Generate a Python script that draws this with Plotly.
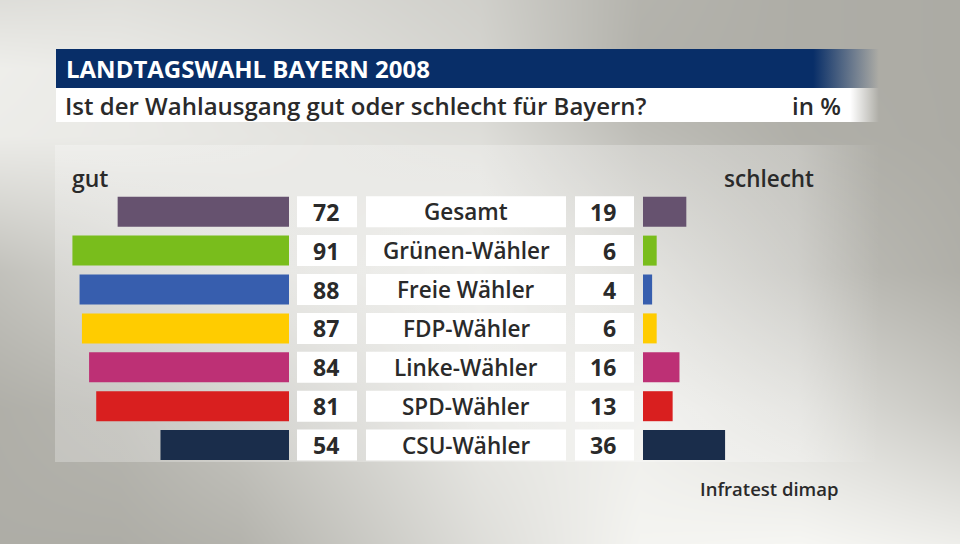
import plotly.graph_objects as go

categories = ["Gesamt", "Grünen-Wähler", "Freie Wähler", "FDP-Wähler", "Linke-Wähler", "SPD-Wähler", "CSU-Wähler"]
gut = [72, 91, 88, 87, 84, 81, 54]
schlecht = [19, 6, 4, 6, 16, 13, 36]
colors = ["#66526f", "#79bd1c", "#375eae", "#ffcc00", "#bd3075", "#d91f1f", "#1a2d4b"]

title = "LANDTAGSWAHL BAYERN 2008"
subtitle = "Ist der Wahlausgang gut oder schlecht für Bayern?"
unit = "in %"
left_label = "gut"
right_label = "schlecht"
source = "Infratest dimap"

W, H = 960, 544
FONT = "Open Sans"
TXT = "#2a2a2a"

fig = go.Figure()

# --- background gradient (decorative) ---
bg_x = [0, 120, 240, 480, 640, 800, 960]
bg_y = [0, 68, 136, 272, 408, 544]
bg_z = [
    [222, 224, 220, 208, 180, 174, 172],
    [238, 234, 228, 212, 178, 174, 172],
    [236, 234, 230, 222, 190, 176, 172],
    [194, 210, 222, 236, 218, 190, 176],
    [176, 182, 198, 232, 238, 222, 200],
    [174, 174, 180, 222, 244, 246, 238],
]
fig.add_trace(go.Heatmap(x=bg_x, y=bg_y, z=bg_z, zsmooth="best", showscale=False,
                         colorscale=[[0, "rgb(170,169,162)"], [1, "rgb(248,248,245)"]],
                         zmin=170, zmax=248, hoverinfo="skip", xaxis="x", yaxis="y"))


def grad_rect(x0, x1, y0, y1, color, fade_from, fade_color):
    # horizontal gradient rectangle: solid up to fade_from (fraction), fades to fade_color
    return go.Scatter(x=[x0, x1, x1, x0, x0], y=[y0, y0, y1, y1, y0], fill="toself",
                      fillgradient=dict(type="horizontal",
                                        colorscale=[[0, color], [fade_from, color], [1, fade_color]]),
                      mode="none", hoverinfo="skip", showlegend=False, xaxis="x", yaxis="y")


# lighter panel behind bars
fig.add_trace(grad_rect(55, 880, 145, 462, "rgba(255,255,255,0.26)", 0.9, "rgba(255,255,255,0)"))
# header bars
fig.add_trace(grad_rect(56, 879, 49, 88, "rgba(8,46,104,1)", 0.92, "rgba(8,46,104,0)"))
fig.add_trace(grad_rect(56, 879, 88, 122, "rgba(255,255,255,1)", 0.965, "rgba(255,255,255,0)"))

# --- bars ---
row0, step = 211.7, 38.9
idx_top = -row0 / step
idx_bot = (H - row0) / step
left_px_end, left_scale = 289, 2.38
right_px_start, right_scale = 643, 2.28

fig.add_trace(go.Bar(y=categories, x=gut, orientation="h", marker=dict(color=colors, line=dict(width=0)),
                     width=30 / step, xaxis="x2", yaxis="y2", hoverinfo="skip", showlegend=False))
fig.add_trace(go.Bar(y=categories, x=schlecht, orientation="h", marker=dict(color=colors, line=dict(width=0)),
                     width=30 / step, xaxis="x3", yaxis="y2", hoverinfo="skip", showlegend=False))

shapes = []
annotations = []

annotations.append(dict(xref="x", yref="y", x=64, y=68, text=title, showarrow=False, xanchor="left",
                        yanchor="middle", font=dict(family=FONT, size=24, color="white", weight="bold")))
annotations.append(dict(xref="x", yref="y", x=63, y=105, text=subtitle, showarrow=False, xanchor="left",
                        yanchor="middle", font=dict(family=FONT, size=24, color=TXT, weight=600)))
annotations.append(dict(xref="x", yref="y", x=843, y=105, text=unit, showarrow=False, xanchor="right",
                        yanchor="middle", font=dict(family=FONT, size=24, color=TXT, weight=600)))
annotations.append(dict(xref="x", yref="y", x=70, y=178, text=left_label, showarrow=False, xanchor="left",
                        yanchor="middle", font=dict(family=FONT, size=23, color=TXT, weight=600)))
annotations.append(dict(xref="x", yref="y", x=816, y=178, text=right_label, showarrow=False, xanchor="right",
                        yanchor="middle", font=dict(family=FONT, size=22.5, color=TXT, weight=600)))
annotations.append(dict(xref="x", yref="y", x=841, y=488, text=source, showarrow=False, xanchor="right",
                        yanchor="middle", font=dict(family=FONT, size=18.5, color=TXT, weight=600)))

# value / label boxes per row
boxes = [(297, 357), (366, 566), (575, 634)]
for i, cat in enumerate(categories):
    for (bx0, bx1) in boxes:
        shapes.append(dict(type="rect", xref="x", yref="y2", x0=bx0, x1=bx1, y0=i - 15.5 / step, y1=i + 15.5 / step,
                           fillcolor="white", line=dict(width=0), layer="above"))
    annotations.append(dict(xref="x", yref="y2", x=341, y=i, text=str(gut[i]), showarrow=False,
                            xanchor="right", yanchor="middle",
                            font=dict(family=FONT, size=23, color=TXT, weight="bold")))
    annotations.append(dict(xref="x", yref="y2", x=466, y=i, text=cat, showarrow=False,
                            xanchor="center", yanchor="middle",
                            font=dict(family=FONT, size=22.5, color=TXT, weight=600)))
    annotations.append(dict(xref="x", yref="y2", x=618, y=i, text=str(schlecht[i]), showarrow=False,
                            xanchor="right", yanchor="middle",
                            font=dict(family=FONT, size=23, color=TXT, weight="bold")))

hidden = dict(visible=False, showgrid=False, zeroline=False, fixedrange=True)
fig.update_layout(
    width=W, height=H,
    margin=dict(l=0, r=0, t=0, b=0, pad=0),
    paper_bgcolor="#d8d8d2",
    plot_bgcolor="rgba(0,0,0,0)",
    showlegend=False,
    barmode="overlay",
    xaxis=dict(domain=[0, 1], range=[0, W], **hidden),
    yaxis=dict(domain=[0, 1], range=[H, 0], **hidden),
    xaxis2=dict(domain=[0, left_px_end / W], range=[left_px_end / left_scale, 0], anchor="y2", **hidden),
    xaxis3=dict(domain=[right_px_start / W, 1], range=[0, (W - right_px_start) / right_scale], anchor="y2", **hidden),
    yaxis2=dict(domain=[0, 1], range=[idx_bot, idx_top], type="category", anchor="x2", **hidden),
    shapes=shapes,
    annotations=annotations,
)

fig.write_html("out.html", config={"displayModeBar": False},
               post_script="document.body.style.margin='0';document.body.style.overflow='hidden';")
